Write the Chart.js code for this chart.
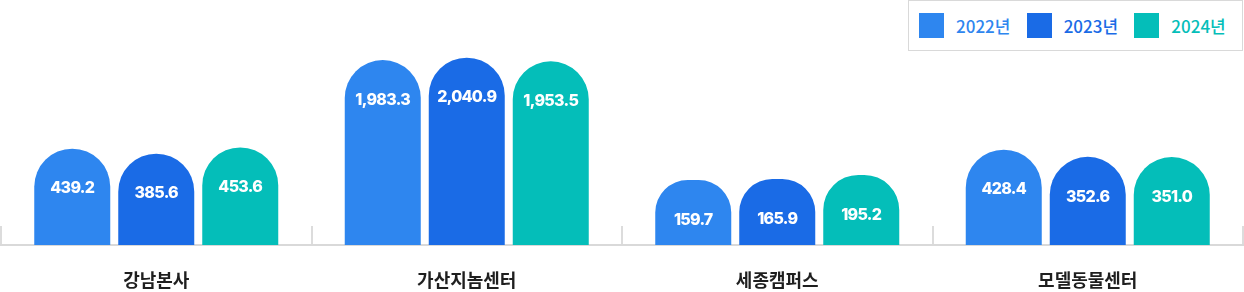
<!DOCTYPE html>
<html>
<head>
<meta charset="utf-8">
<script src="https://cdn.jsdelivr.net/npm/chart.js@4/dist/chart.umd.min.js"></script>
<style>
  html, body { margin: 0; padding: 0; background: #fff; }
  #wrap { position: relative; width: 1244px; height: 292px; }
  #c { position: absolute; left: 0; top: 0; }
  #legend {
    position: absolute; left: 908px; top: 0; width: 335px; height: 51px;
    box-sizing: border-box; border: 1px solid #d9d9d9; background: #fff;
    display: flex; align-items: center; padding-left: 10px;
    font-family: "Noto Sans CJK KR", "Noto Sans", sans-serif; font-size: 17px; font-weight: 500;
  }
  .item { display: flex; align-items: center; width: 110px; white-space: nowrap; }
  .sw { width: 25px; height: 25px; margin-right: 12px; flex: none; }
</style>
</head>
<body>
<div id="wrap">
  <canvas id="c" width="1244" height="292"></canvas>
  <div id="legend"></div>
</div>
<script>
// ---- data ----
const categories = ['강남본사', '가산지놈센터', '세종캠퍼스', '모델동물센터'];
const seriesNames = ['2022년', '2023년', '2024년'];
const values2022 = [439.2, 1983.3, 159.7, 428.4];
const values2023 = [385.6, 2040.9, 165.9, 352.6];
const values2024 = [453.6, 1953.5, 195.2, 351.0];

// ---- styles ----
const seriesColors = ['#2E86EF', '#1A6BE6', '#04BEB9'];
const rawSeries = [values2022, values2023, values2024];

// value axis is drawn on a square-root scale
const Y_MIN = -4.675;
const Y_MAX = 60.52;

function fmt(v) {
  return v.toLocaleString('en-US', { minimumFractionDigits: 1, maximumFractionDigits: 1 });
}

// legend (HTML)
const legendEl = document.getElementById('legend');
seriesNames.forEach((name, i) => {
  const it = document.createElement('div');
  it.className = 'item';
  const sw = document.createElement('span');
  sw.className = 'sw';
  sw.style.background = seriesColors[i];
  const tx = document.createElement('span');
  tx.textContent = name;
  tx.style.color = seriesColors[i];
  it.appendChild(sw); it.appendChild(tx);
  legendEl.appendChild(it);
});

const valueLabels = {
  id: 'valueLabels',
  afterDatasetsDraw(chart) {
    const ctx = chart.ctx;
    ctx.save();
    ctx.font = '800 16px Inter, "Noto Sans", sans-serif';
    try { ctx.letterSpacing = '-0.7px'; } catch (e) {}
    ctx.fillStyle = '#ffffff';
    ctx.textAlign = 'center';
    ctx.textBaseline = 'middle';
    chart.data.datasets.forEach((ds, i) => {
      chart.getDatasetMeta(i).data.forEach((bar, j) => {
        ctx.fillText(fmt(rawSeries[i][j]), bar.x, bar.y + 40);
      });
    });
    ctx.restore();
  }
};

new Chart(document.getElementById('c'), {
  type: 'bar',
  data: {
    labels: categories,
    datasets: rawSeries.map((vals, i) => ({
      label: seriesNames[i],
      data: vals.map(v => Math.sqrt(v)),
      backgroundColor: seriesColors[i],
      borderWidth: 0,
      borderSkipped: 'bottom',
      borderRadius: { topLeft: 38, topRight: 38, bottomLeft: 0, bottomRight: 0 },
      base: Y_MIN,
      categoryPercentage: 252 / 310.5,
      barPercentage: 76 / 84
    }))
  },
  options: {
    responsive: false,
    animation: false,
    devicePixelRatio: 1,
    layout: { padding: { left: 1, right: 1, top: 0, bottom: 0 } },
    plugins: {
      legend: { display: false },
      tooltip: { enabled: false }
    },
    scales: {
      x: {
        type: 'category',
        z: 1,
        offset: true,
        afterFit(scale) { scale.height = 47; },
        grid: {
          display: true,
          offset: true,
          drawOnChartArea: false,
          drawTicks: true,
          tickLength: -19,
          color: '#dcdcdc',
          lineWidth: 2
        },
        border: { display: true, color: '#d9d9d9', width: 2 },
        ticks: {
          padding: 43,
          color: '#1f1f1f',
          font: { family: '"Noto Sans CJK KR", "Noto Sans", sans-serif', size: 18, weight: 600 },
          autoSkip: false,
          maxRotation: 0
        }
      },
      y: {
        display: false,
        min: Y_MIN,
        max: Y_MAX
      }
    }
  },
  plugins: [valueLabels]
});
</script>
</body>
</html>
